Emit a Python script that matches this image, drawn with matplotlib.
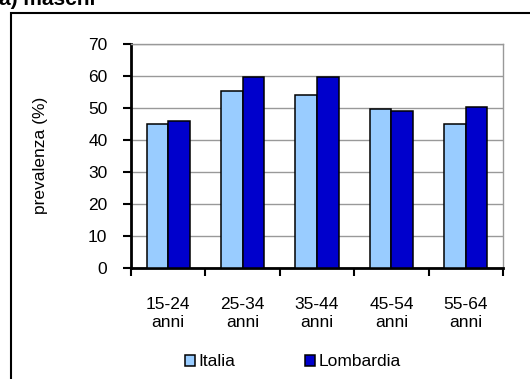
import numpy as np
import matplotlib.pyplot as plt
from matplotlib.patches import Rectangle

plt.rcParams['font.family'] = ['Liberation Sans', 'DejaVu Sans']

categorie = ["15-24\nanni", "25-34\nanni", "35-44\nanni", "45-54\nanni", "55-64\nanni"]
italia = [45.1, 55.2, 53.9, 49.6, 45.1]
lombardia = [45.8, 59.6, 59.6, 49.1, 50.3]

FS = 12.5

fig = plt.figure(figsize=(5.30, 3.79), dpi=100)
ax = fig.add_axes([131 / 530, 1 - 267.5 / 379, (503 - 131) / 530, (267.5 - 44) / 379])

# cornice esterna del riquadro
fig.patches.append(Rectangle((11 / 530, -0.05), 1.1, 1 - 13 / 379 + 0.05,
                             transform=fig.transFigure, fill=False,
                             edgecolor='black', linewidth=1.5, zorder=0))
fig.text(-0.002, 1 - 5 / 379, "a) maschi", fontsize=15, fontweight='bold',
         va='baseline', ha='left')

x = np.arange(len(categorie))
w = 0.29
ax.bar(x - w / 2, italia, w, color='#99CCFF', edgecolor='black',
       linewidth=1.1, label='Italia', zorder=3)
ax.bar(x + w / 2, lombardia, w, color='#0000CC', edgecolor='black',
       linewidth=1.1, label='Lombardia', zorder=3)

ax.set_xlim(-0.5, len(categorie) - 0.5)
ax.set_ylim(0, 70)
ax.set_yticks(range(0, 71, 10))
ax.yaxis.grid(True, color='#999999', linewidth=1, zorder=0)
ax.set_axisbelow(True)

# tacche ai bordi delle categorie, etichette al centro
ax.set_xticks(np.arange(-0.5, len(categorie), 1.0))
ax.set_xticklabels([])
ax.set_xticks(x, minor=True)
ax.set_xticklabels(categorie, minor=True, fontsize=FS)
for t in ax.get_xticklabels(minor=True):
    t.set_linespacing(1.25)
ax.tick_params(axis='x', which='major', direction='out', length=6, width=1.5)
ax.tick_params(axis='x', which='minor', length=0, pad=21)
ax.tick_params(axis='y', direction='out', length=6, width=1.5, pad=11, labelsize=FS)

for s in ['left', 'bottom']:
    ax.spines[s].set_linewidth(2)
    ax.spines[s].set_color('black')
for s in ['top', 'right']:
    ax.spines[s].set_linewidth(1)
    ax.spines[s].set_color('#999999')

fig.text(41 / 530, 1 - 155 / 379, "prevalenza (%)", rotation=90,
         ha='center', va='center', fontsize=FS)

fig.legend(loc='center', bbox_to_anchor=(293 / 530, 1 - 362 / 379), ncol=2,
           frameon=False, fontsize=FS, handlelength=0.6, handleheight=0.6,
           handletextpad=0.2, columnspacing=4.0, borderpad=0, borderaxespad=0)

fig.savefig("out.png", dpi=100)
